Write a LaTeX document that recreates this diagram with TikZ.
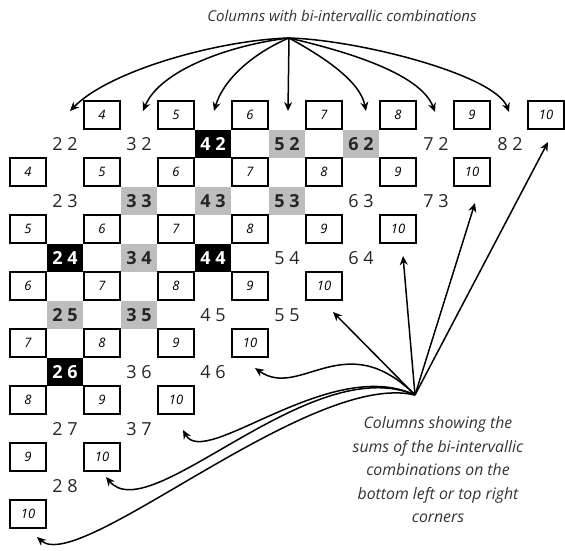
\documentclass[tikz,border=0pt]{standalone}
\usepackage{fontspec}
\setmainfont{Open Sans}
\usetikzlibrary{arrows.meta}
\definecolor{shade}{gray}{0.74}
\definecolor{note}{gray}{0.2}

\begin{document}
\begin{tikzpicture}[x=1pt,y=-1pt,
  sumbox/.style={draw,line width=1.5pt,minimum width=36pt,minimum height=28pt,inner sep=0pt,font=\fontsize{13}{13}\selectfont\itshape},
  pair/.style={minimum width=36pt,minimum height=28pt,inner sep=0pt,text=black!85,font=\fontsize{18}{18}\selectfont},
  darkpair/.style={pair,fill=black,text=white,font=\fontsize{18}{18}\selectfont\bfseries},
  greypair/.style={pair,fill=shade,font=\fontsize{18}{18}\selectfont\bfseries},
  arr/.style={line width=1.5pt,-{Stealth[length=9pt,width=8pt]}},
  caption/.style={text=note,font=\fontsize{15}{23.5}\selectfont\itshape,align=center}]
\useasboundingbox (0,0) rectangle (565,551);

\node[caption] (title) at (342,16) {Columns with bi-intervallic combinations};
\node[caption,font=\fontsize{15.8}{23.5}\selectfont\itshape] (note) at (438,470) {Columns showing the\\sums of the bi-intervallic\\combinations on the\\bottom left or top right\\corners};

\node[pair] (p22) at (65,144) {2 2};
\node[pair] (p32) at (139,144) {3 2};
\node[darkpair] (p42) at (213,144) {4 2};
\node[greypair] (p52) at (287,144) {5 2};
\node[greypair] (p62) at (361,144) {6 2};
\node[pair] (p72) at (436,144) {7 2};
\node[pair] (p82) at (510,144) {8 2};

\node[pair] (p23) at (65,201) {2 3};
\node[greypair] (p33) at (139,201) {3 3};
\node[greypair] (p43) at (213,201) {4 3};
\node[greypair] (p53) at (287,201) {5 3};
\node[pair] (p63) at (361,201) {6 3};
\node[pair] (p73) at (436,201) {7 3};

\node[darkpair] (p24) at (65,258) {2 4};
\node[greypair] (p34) at (139,258) {3 4};
\node[darkpair] (p44) at (213,258) {4 4};
\node[pair] (p54) at (287,258) {5 4};
\node[pair] (p64) at (361,258) {6 4};

\node[greypair] (p25) at (65,315) {2 5};
\node[greypair] (p35) at (139,315) {3 5};
\node[pair] (p45) at (213,315) {4 5};
\node[pair] (p55) at (287,315) {5 5};

\node[darkpair] (p26) at (65,372) {2 6};
\node[pair] (p36) at (139,372) {3 6};
\node[pair] (p46) at (213,372) {4 6};

\node[pair] (p27) at (65,429) {2 7};
\node[pair] (p37) at (139,429) {3 7};

\node[pair] (p28) at (65,486) {2 8};

\node[sumbox] (a4) at (102,115) {4};
\node[sumbox] (a5) at (176,115) {5};
\node[sumbox] (a6) at (250,115) {6};
\node[sumbox] (a7) at (324,115) {7};
\node[sumbox] (a8) at (398,115) {8};
\node[sumbox] (a9) at (472,115) {9};
\node[sumbox] (a10) at (546,115) {10};

\node[sumbox] (b4) at (28,172) {4};
\node[sumbox] (b5) at (102,172) {5};
\node[sumbox] (b6) at (176,172) {6};
\node[sumbox] (b7) at (250,172) {7};
\node[sumbox] (b8) at (324,172) {8};
\node[sumbox] (b9) at (398,172) {9};
\node[sumbox] (b10) at (472,172) {10};

\node[sumbox] (c5) at (28,229) {5};
\node[sumbox] (c6) at (102,229) {6};
\node[sumbox] (c7) at (176,229) {7};
\node[sumbox] (c8) at (250,229) {8};
\node[sumbox] (c9) at (324,229) {9};
\node[sumbox] (c10) at (398,229) {10};

\node[sumbox] (d6) at (28,286) {6};
\node[sumbox] (d7) at (102,286) {7};
\node[sumbox] (d8) at (176,286) {8};
\node[sumbox] (d9) at (250,286) {9};
\node[sumbox] (d10) at (324,286) {10};

\node[sumbox] (e7) at (28,343) {7};
\node[sumbox] (e8) at (102,343) {8};
\node[sumbox] (e9) at (176,343) {9};
\node[sumbox] (e10) at (250,343) {10};

\node[sumbox] (f8) at (28,400) {8};
\node[sumbox] (f9) at (102,400) {9};
\node[sumbox] (f10) at (176,400) {10};

\node[sumbox] (g9) at (28,457) {9};
\node[sumbox] (g10) at (102,457) {10};

\node[sumbox] (h10) at (28,514) {10};

\coordinate (hi) at (289,38);
\coordinate (col2) at (70,111);
\coordinate (col3) at (143,111);
\coordinate (col4) at (214,111);
\coordinate (col5) at (288,111);
\coordinate (col6) at (366,111);
\coordinate (col7) at (435,112);
\coordinate (col8) at (509,112);

\draw[arr] (hi) .. controls (220,40) and (110,70) .. (col2);
\draw[arr] (hi) .. controls (230,45) and (160,70) .. (col3);
\draw[arr] (hi) .. controls (260,50) and (225,75) .. (col4);
\draw[arr] (hi) -- (col5);
\draw[arr] (hi) .. controls (320,55) and (360,80) .. (col6);
\draw[arr] (hi) .. controls (340,50) and (420,72) .. (col7);
\draw[arr] (hi) .. controls (360,40) and (495,75) .. (col8);

\coordinate (lo) at (415,395);
\coordinate (ua) at (548,142);
\coordinate (ub) at (475,203);
\coordinate (uc) at (403,256);
\coordinate (ud) at (333,312);
\coordinate (ue) at (255,368);
\coordinate (uf) at (183,430);
\coordinate (ug) at (106,477);
\coordinate (uh) at (37,537);

\draw[arr] (lo) -- (ua);
\draw[arr] (lo) -- (ub);
\draw[arr] (lo) -- (uc);
\draw[arr] (lo) -- (ud);
\draw[arr] (lo) .. controls (345,325) and (300,400) .. (ue);
\draw[arr] (lo) .. controls (330,355) and (205,470) .. (uf);
\draw[arr] (lo) .. controls (310,350) and (150,530) .. (ug);
\draw[arr] (lo) .. controls (310,370) and (80,575) .. (uh);
\end{tikzpicture}
\end{document}
